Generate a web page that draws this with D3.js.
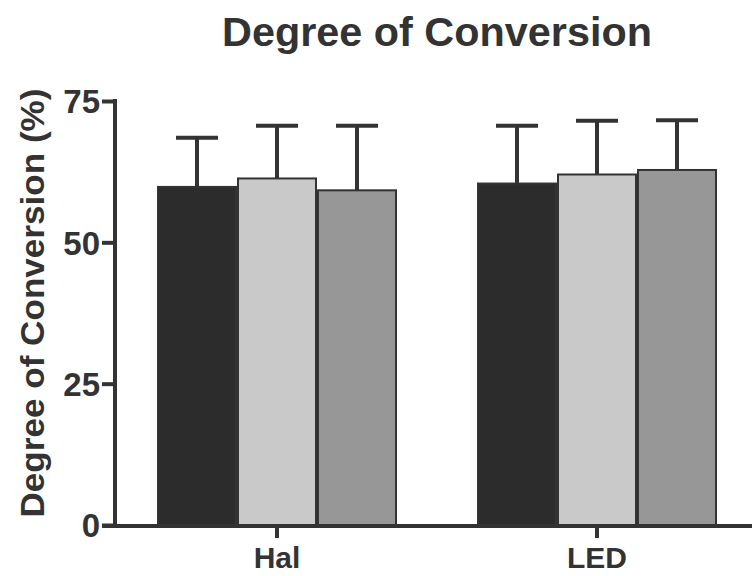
<!DOCTYPE html>
<html>
<head>
  <script src="https://d3js.org/d3.v7.min.js"></script>
  <style>
    body { margin: 0; background: #fff; }
    svg { display: block; }
    text { font-family: "Liberation Sans", Arial, sans-serif; font-weight: bold; fill: #333; }
  </style>
</head>
<body>
<script>
// data
var groups = ["Hal", "LED"];
var series = ["s1", "s2", "s3"];
var means = { Hal: [59.8, 61.3, 59.2], LED: [60.4, 62.0, 62.8] };
var sds = { Hal: [8.7, 9.3, 11.4], LED: [10.2, 9.5, 8.8] };
var yTicks = [0, 25, 50, 75];
var colors = ["#2c2c2c", "#c9c9c9", "#979797"];

var width = 752, height = 576;
var ink = "#333";

var svg = d3.select("body").append("svg")
  .attr("width", width).attr("height", height);

var y = d3.scaleLinear().domain([0, 75]).range([525, 101]);
var x0 = d3.scaleBand().domain(groups).range([117, 757])
  .paddingInner(0.25).paddingOuter(0.125);
var x1 = d3.scaleBand().domain(series).range([0, x0.bandwidth()]);

var rows = groups.map(function(g) {
  return series.map(function(s, i) {
    return { group: g, key: s, i: i, mean: means[g][i], sd: sds[g][i] };
  });
});

var g = svg.selectAll(".grp")
  .data(rows)
  .enter().append("g")
  .attr("class", "grp")
  .attr("transform", function(d) { return "translate(" + x0(d[0].group) + ",0)"; });

// error bars (upper only) drawn under the bars
g.selectAll(".err")
  .data(function(d) { return d; })
  .enter().append("line")
  .attr("x1", function(d) { return x1(d.key) + x1.bandwidth() / 2; })
  .attr("x2", function(d) { return x1(d.key) + x1.bandwidth() / 2; })
  .attr("y1", function(d) { return y(d.mean); })
  .attr("y2", function(d) { return y(d.mean + d.sd); })
  .attr("stroke", ink).attr("stroke-width", 4);

g.selectAll(".cap")
  .data(function(d) { return d; })
  .enter().append("line")
  .attr("x1", function(d) { return x1(d.key) + x1.bandwidth() / 2 - 21; })
  .attr("x2", function(d) { return x1(d.key) + x1.bandwidth() / 2 + 21; })
  .attr("y1", function(d) { return y(d.mean + d.sd); })
  .attr("y2", function(d) { return y(d.mean + d.sd); })
  .attr("stroke", ink).attr("stroke-width", 4);

g.selectAll(".bar")
  .data(function(d) { return d; })
  .enter().append("rect")
  .attr("x", function(d) { return x1(d.key) + 1; })
  .attr("width", x1.bandwidth() - 2)
  .attr("y", function(d) { return y(d.mean); })
  .attr("height", function(d) { return y(0) - y(d.mean); })
  .attr("fill", function(d) { return colors[d.i]; })
  .attr("stroke", ink).attr("stroke-width", 2);

// y axis
var yAxis = svg.append("g")
  .attr("transform", "translate(115,0)")
  .call(d3.axisLeft(y).tickValues(yTicks).tickSize(13).tickPadding(2));
yAxis.select(".domain").remove();
yAxis.append("line")
  .attr("x1", 0).attr("x2", 0)
  .attr("y1", y(75) - 2).attr("y2", y(0) + 2)
  .attr("stroke", ink).attr("stroke-width", 4);
yAxis.selectAll(".tick line").attr("stroke", ink).attr("stroke-width", 4);
yAxis.selectAll(".tick text")
  .style("font-size", "33px").attr("fill", ink).attr("dy", "0.36em");

// x axis
var xAxis = svg.append("g")
  .attr("transform", "translate(0," + (y(0) + 1) + ")")
  .call(d3.axisBottom(x0).tickSize(12).tickPadding(9));
xAxis.select(".domain").remove();
xAxis.append("line")
  .attr("x1", 102).attr("x2", width)
  .attr("y1", 0).attr("y2", 0)
  .attr("stroke", ink).attr("stroke-width", 4);
xAxis.selectAll(".tick line").attr("stroke", ink).attr("stroke-width", 4);
xAxis.selectAll(".tick text")
  .style("font-size", "30px").attr("fill", ink);

// titles
svg.append("text")
  .attr("x", 437).attr("y", 46)
  .attr("text-anchor", "middle")
  .attr("textLength", 430).attr("lengthAdjust", "spacingAndGlyphs")
  .style("font-size", "40px")
  .text("Degree of Conversion");

svg.append("text")
  .attr("transform", "translate(44,303) rotate(-90)")
  .attr("text-anchor", "middle")
  .attr("textLength", 429).attr("lengthAdjust", "spacingAndGlyphs")
  .style("font-size", "34px")
  .text("Degree of Conversion (%)");
</script>
</body>
</html>
